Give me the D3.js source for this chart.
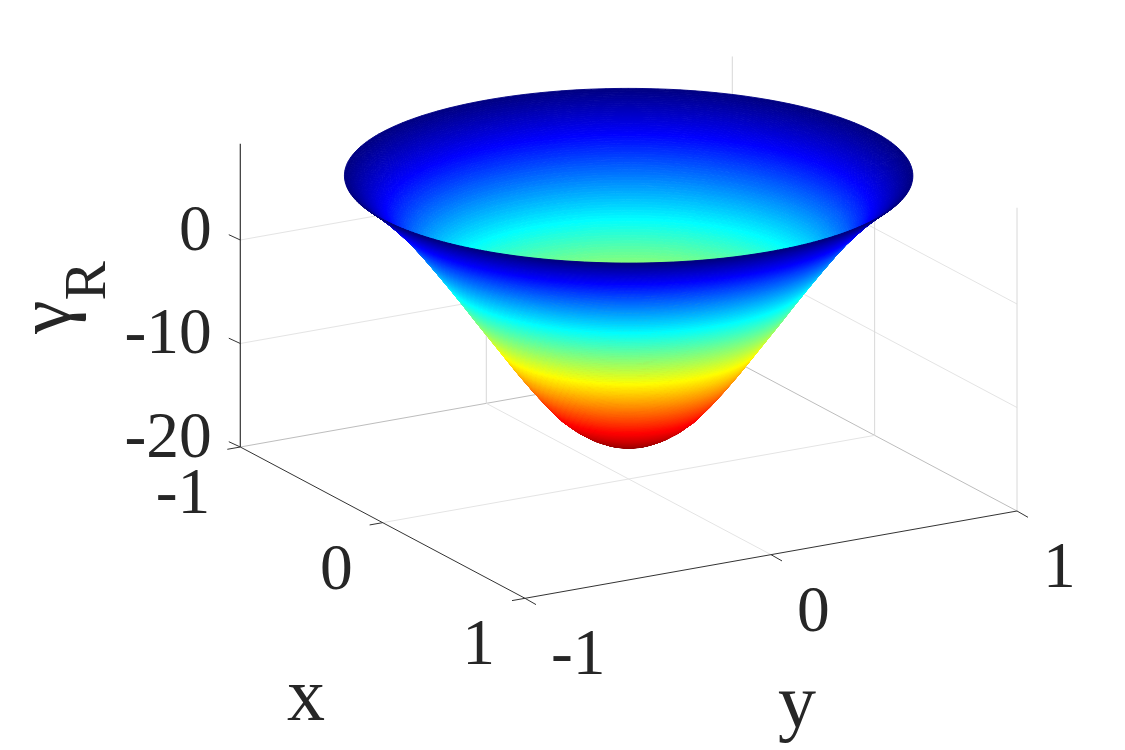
<!DOCTYPE html>
<html><head><meta charset="utf-8">
<style>html,body{margin:0;padding:0;background:#fff}svg{display:block}text{font-family:"Liberation Serif",serif;fill:#262626}</style>
<script src="https://cdn.jsdelivr.net/npm/d3@7"></script></head>
<body><div id="c"></div>
<script>
// surface-of-revolution profile
const profileR = [0,.05,.1,.15,.2,.25,.3,.35,.4,.45,.5,.55,.6,.65,.7,.75,.8,.85,.9,.95,1];
const profileZ = [-16.64,-16.52,-16.17,-15.57,-14.75,-13.7,-12.3,-10.75,-9.1,-7.35,-5.6,-3.85,-2.05,-.3,1.4,3.05,4.6,5.95,7.2,8.3,9.3];
const xTicks = [-1,0,1], yTicks = [-1,0,1], zTicks = [0,-10,-20];
const zTop = 9.3, zFloor = -20;
const jetStops = [0,.125,.375,.625,.875,1];
const jetColors = ["#000080","#0000ff","#00ffff","#ffff00","#ff0000","#800000"];

const W=1125,H=750, ox=240.3, oy=447;
const xPx=d3.scaleLinear([-1,1],[0,284.7]), xPy=d3.scaleLinear([-1,1],[0,151.3]);
const yPx=d3.scaleLinear([-1,1],[0,492.0]), yPy=d3.scaleLinear([-1,1],[0,-87.3]);
const zPy=d3.scaleLinear([-20,10],[0,-310.5]);
const P=(x,y,z)=>[ox+xPx(x)+yPx(y), oy+xPy(x)+yPy(y)+zPy(z)];
const depth=(x,y,z)=>(x*.8665-y*.5)*284.4*.952+z*10.88*.307;

const zMin=d3.min(profileZ), zMax=d3.max(profileZ);
const tOfZ=d3.scaleLinear([zMax,zMin],[0,1]);
const jet=d3.scaleLinear(jetStops,jetColors).interpolate(d3.interpolateRgb);
const zOfR=d3.scaleLinear(profileR,profileZ);

const svg=d3.select("#c").append("svg").attr("width",W).attr("height",H).attr("viewBox",`0 0 ${W} ${H}`);
const seg=(g,a,b,col,w)=>{const p=P(...a),q=P(...b);g.append("line").attr("x1",p[0]).attr("y1",p[1]).attr("x2",q[0]).attr("y2",q[1]).attr("stroke",col).attr("stroke-width",w);};

// grid
const grid=svg.append("g");
const gc="#e4e4e4", ge="#bdbdbd";
zTicks.filter(z=>z>zFloor).forEach(z=>{seg(grid,[-1,-1,z],[-1,1,z],gc,1);seg(grid,[-1,1,z],[1,1,z],gc,1);});
seg(grid,[-1,-1,zFloor],[-1,1,zFloor],ge,1);seg(grid,[-1,1,zFloor],[1,1,zFloor],ge,1);
seg(grid,[0,-1,zFloor],[0,1,zFloor],gc,1);seg(grid,[-1,0,zFloor],[1,0,zFloor],gc,1);
seg(grid,[-1,0,zFloor],[-1,0,zTop],"#d8d8d8",1);seg(grid,[0,1,zFloor],[0,1,zTop],"#d8d8d8",1);
seg(grid,[-1,1,zFloor],[-1,1,zTop],"#d8d8d8",1);seg(grid,[1,1,zFloor],[1,1,zTop],"#d8d8d8",1);

// axes and ticks
const ax=svg.append("g"), ac="#333333";
seg(ax,[-1,-1,zFloor],[1,-1,zFloor],ac,1);seg(ax,[1,-1,zFloor],[1,1,zFloor],ac,1);seg(ax,[-1,-1,zFloor],[-1,-1,zTop],ac,1.2);
const tick=(x0,y0,dx,dy)=>ax.append("line").attr("x1",x0).attr("y1",y0).attr("x2",x0+dx).attr("y2",y0+dy).attr("stroke",ac).attr("stroke-width",1);
const fs=65.5, lab=(s,x,cy,anchor)=>svg.append("text").attr("x",x).attr("y",cy+fs*.335).attr("text-anchor",anchor).attr("font-size",fs).text(s);
zTicks.forEach(z=>{const p=P(-1,-1,z);tick(p[0],p[1],-11.5,-5.3);lab(z,p[0]-28.6,p[1]-12,"end");});
xTicks.forEach(x=>{const p=P(x,-1,zFloor);tick(p[0],p[1],-13,2.3);lab(x,p[0]-30,p[1]+44,"end");});
yTicks.forEach(y=>{const p=P(1,y,zFloor);tick(p[0],p[1],11,6.3);lab(y,p[0]+26,p[1]+54,"start");});

// surface mesh: each profile interval split into fine rings, fewer sectors near the axis
const sub=8, rings=[];
for(let i=0;i<profileR.length-1;i++){for(let k=0;k<sub;k++)rings.push(profileR[i]+(profileR[i+1]-profileR[i])*k/sub);}
rings.push(1);
const cells=[];
for(let i=0;i<rings.length-1;i++){
  const r0=rings[i],r1=rings[i+1],z0=zOfR(r0),z1=zOfR(r1),rm=(r0+r1)/2,zm=(z0+z1)/2,col=jet(tOfZ(zm));
  const nA=Math.max(36,Math.ceil(240*r1));
  for(let j=0;j<nA;j++){
    const a0=j/nA*2*Math.PI,a1=(j+1)/nA*2*Math.PI,am=(a0+a1)/2;
    cells.push({pts:[P(r0*Math.cos(a0),r0*Math.sin(a0),z0),P(r1*Math.cos(a0),r1*Math.sin(a0),z1),P(r1*Math.cos(a1),r1*Math.sin(a1),z1),P(r0*Math.cos(a1),r0*Math.sin(a1),z0)],
      d:depth(rm*Math.cos(am),rm*Math.sin(am),zm),col});
  }
}
cells.sort((a,b)=>a.d-b.d);
const line=d3.line().curve(d3.curveLinearClosed);
svg.append("g").selectAll("path").data(cells).join("path").attr("d",c=>line(c.pts)).attr("fill",c=>c.col).attr("stroke",c=>c.col).attr("stroke-width",.9);

// axis labels
svg.append("text").attr("x",306).attr("y",720).attr("text-anchor","middle").attr("font-size",76).text("x");
svg.append("text").attr("x",797).attr("y",727).attr("text-anchor","middle").attr("font-size",76).text("y");
const gl=svg.append("text").attr("transform","translate(70,334) rotate(-90)");
gl.append("tspan").attr("font-size",76).text("γ");
gl.append("tspan").attr("font-size",59).attr("dy",35).text("R");
</script></body></html>
